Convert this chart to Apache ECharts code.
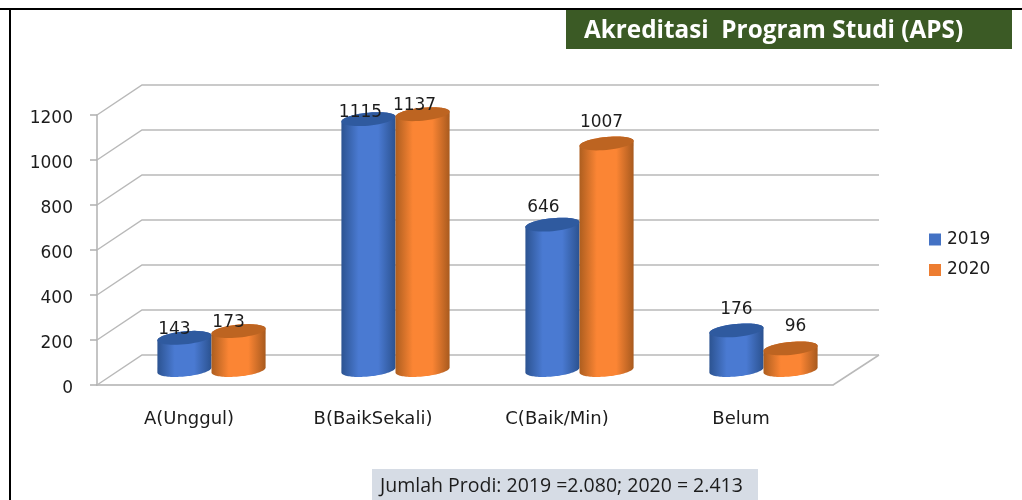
<!DOCTYPE html>
<html>
<head>
<meta charset="utf-8">
<style>html,body{margin:0;padding:0;background:#fff}#c{width:1022px;height:500px}</style>
<script src="https://cdn.jsdelivr.net/npm/echarts@6/dist/echarts.min.js"></script>
</head>
<body>
<div id="c"></div>
<script>
const categories = ['A(Unggul)', 'B(BaikSekali)', 'C(Baik/Min)', 'Belum'];
const values2019 = [143, 1115, 646, 176];
const values2020 = [173, 1137, 1007, 96];
const wallTicks = [0, 200, 400, 600, 800, 1000, 1200];
const titleText = 'Akreditasi  Program Studi (APS)';
const noteText = 'Jumlah Prodi: 2019 =2.080; 2020 = 2.413';

// Layout constants for the fake 3D look
const DEPTH_X = 45, DEPTH_Y = 30, FONT = '"DejaVu Sans", sans-serif', INK = '#1c1c1c';
const labelNudge = [
  [[-10, -8], [-10, -8]],
  [[-8, -7], [-8, -9]],
  [[-9, -17], [-5, -21]],
  [[0, -21], [5, -22]]
];
const chart = echarts.init(document.getElementById('c'), null, { renderer: 'canvas' });

function wallItem(params, api) {
  const cs = params.coordSys;
  const v = api.value(0);
  const y = api.coord([0, v])[1];
  const x0 = cs.x, x1 = cs.x + cs.width;
  const style = { stroke: '#b9b9b9', lineWidth: 1.5, fill: null };
  const kids = [
    { type: 'polyline', shape: { points: [[x0, y], [x0 + DEPTH_X, y - DEPTH_Y], [x1 + DEPTH_X + 1, y - DEPTH_Y]] }, style }
  ];
  if (v === 0) kids.push({ type: 'line', shape: { x1: x1, y1: y, x2: x1 + DEPTH_X + 1, y2: y - DEPTH_Y }, style });
  return { type: 'group', children: kids };
}

function ellipsePts(cx, cy, r, ry, tilt, from, to) {
  const pts = [];
  const n = 48;
  for (let i = 0; i <= n; i++) {
    const t = from + (to - from) * i / n;
    pts.push([cx + r * Math.cos(t), cy + ry * Math.sin(t) - tilt * Math.cos(t)]);
  }
  return pts;
}

function cylinderItem(side, edge, mid, edge2, cap) {
  return function (params, api) {
    const i = api.value(0), v = api.value(1);
    const band = api.size([1, 0])[0];
    const r = band * 0.147;
    const ry = 6.5, tilt = 2.5;
    const p = api.coord([i, v]);
    const base = api.coord([i, 0]);
    const cx = p[0] + DEPTH_X / 2 + side * r;
    const topY = p[1] - DEPTH_Y / 2;
    const baseY = base[1] - DEPTH_Y / 2;
    const body = ellipsePts(cx, baseY, r, ry, tilt, 0, Math.PI)
      .concat(ellipsePts(cx, topY, r, ry, tilt, Math.PI, 2 * Math.PI));
    const nudge = labelNudge[i][side < 0 ? 0 : 1];
    return {
      type: 'group',
      children: [
        { type: 'polygon', shape: { points: body },
          style: { fill: new echarts.graphic.LinearGradient(0, 0, 1, 0, [
            { offset: 0, color: edge }, { offset: 0.32, color: mid }, { offset: 0.68, color: mid }, { offset: 1, color: edge2 }
          ]) } },
        { type: 'polygon', shape: { points: ellipsePts(cx, topY, r, ry, tilt, 0, 2 * Math.PI) }, style: { fill: cap } },
        { type: 'text', x: cx + nudge[0], y: topY + nudge[1],
          style: { text: String(v), font: '17px ' + FONT, fill: INK, align: 'center', verticalAlign: 'middle' } }
      ]
    };
  };
}

chart.setOption({
  animation: false,
  backgroundColor: '#ffffff',
  title: {
    text: titleText, left: 584, top: 16,
    textStyle: { color: '#ffffff', fontFamily: '"Open Sans", sans-serif', fontWeight: 'bold', fontSize: 24.3, lineHeight: 30 },
    padding: 0
  },
  legend: {
    data: ['2019', '2020'], orient: 'vertical', left: 929, top: 231, icon: 'rect', padding: 0,
    itemWidth: 12, itemHeight: 12, itemGap: 13.5,
    textStyle: { color: INK, fontFamily: FONT, fontSize: 17, padding: [0, 0, 0, 1] }
  },
  grid: { left: 97, right: 189, top: 115, bottom: 115, containLabel: false },
  xAxis: {
    type: 'category', data: categories,
    axisLine: { lineStyle: { color: '#b0b0b0', width: 1.5 } },
    axisTick: { length: 8, lineStyle: { color: '#b0b0b0', width: 1.5 } },
    axisLabel: { color: INK, fontFamily: FONT, fontSize: 18, margin: 25 }
  },
  yAxis: {
    type: 'value', min: 0, max: 1200, interval: 200,
    axisLine: { show: true, lineStyle: { color: '#b0b0b0', width: 1.5 } },
    axisTick: { show: true, length: 7, lineStyle: { color: '#b0b0b0', width: 1.5 } },
    axisLabel: {
      margin: 24, formatter: v => '{n|' + v + '}',
      rich: { n: { color: INK, fontFamily: FONT, fontSize: 17, height: 18, lineHeight: 18, padding: [8, 0, 0, 0] } }
    },
    splitLine: { show: false }
  },
  series: [
    { name: 'walls', type: 'custom', silent: true, z: 1, data: wallTicks.map(v => [v]),
      encode: { y: 0 }, renderItem: wallItem },
    { name: '2019', type: 'custom', z: 2, itemStyle: { color: '#4472c4' },
      data: values2019.map((v, i) => [i, v]), encode: { x: 0, y: 1 },
      renderItem: cylinderItem(-1, '#2c5391', '#4a7ad2', '#2b5290', '#2f5a9f') },
    { name: '2020', type: 'custom', z: 3, itemStyle: { color: '#ed7d31' },
      data: values2020.map((v, i) => [i, v]), encode: { x: 0, y: 1 },
      renderItem: cylinderItem(1, '#ad5e1f', '#fb8534', '#a85a1e', '#bd6421') }
  ],
  graphic: [
    { type: 'rect', z: 0, shape: { x: 0, y: 8, width: 1022, height: 2 }, style: { fill: '#000' } },
    { type: 'rect', z: 0, shape: { x: 9, y: 8, width: 2, height: 492 }, style: { fill: '#000' } },
    { type: 'rect', z: 0, shape: { x: 566, y: 10, width: 446, height: 39 }, style: { fill: '#3b5a25' } },
    { type: 'rect', z: 0, shape: { x: 372, y: 469, width: 386, height: 31 }, style: { fill: '#d6dce5' } },
    { type: 'text', z: 5, x: 380, y: 486, style: { text: noteText, fill: INK, font: '19.5px "Open Sans", sans-serif', verticalAlign: 'middle' } }
  ]
});
</script>
</body>
</html>
